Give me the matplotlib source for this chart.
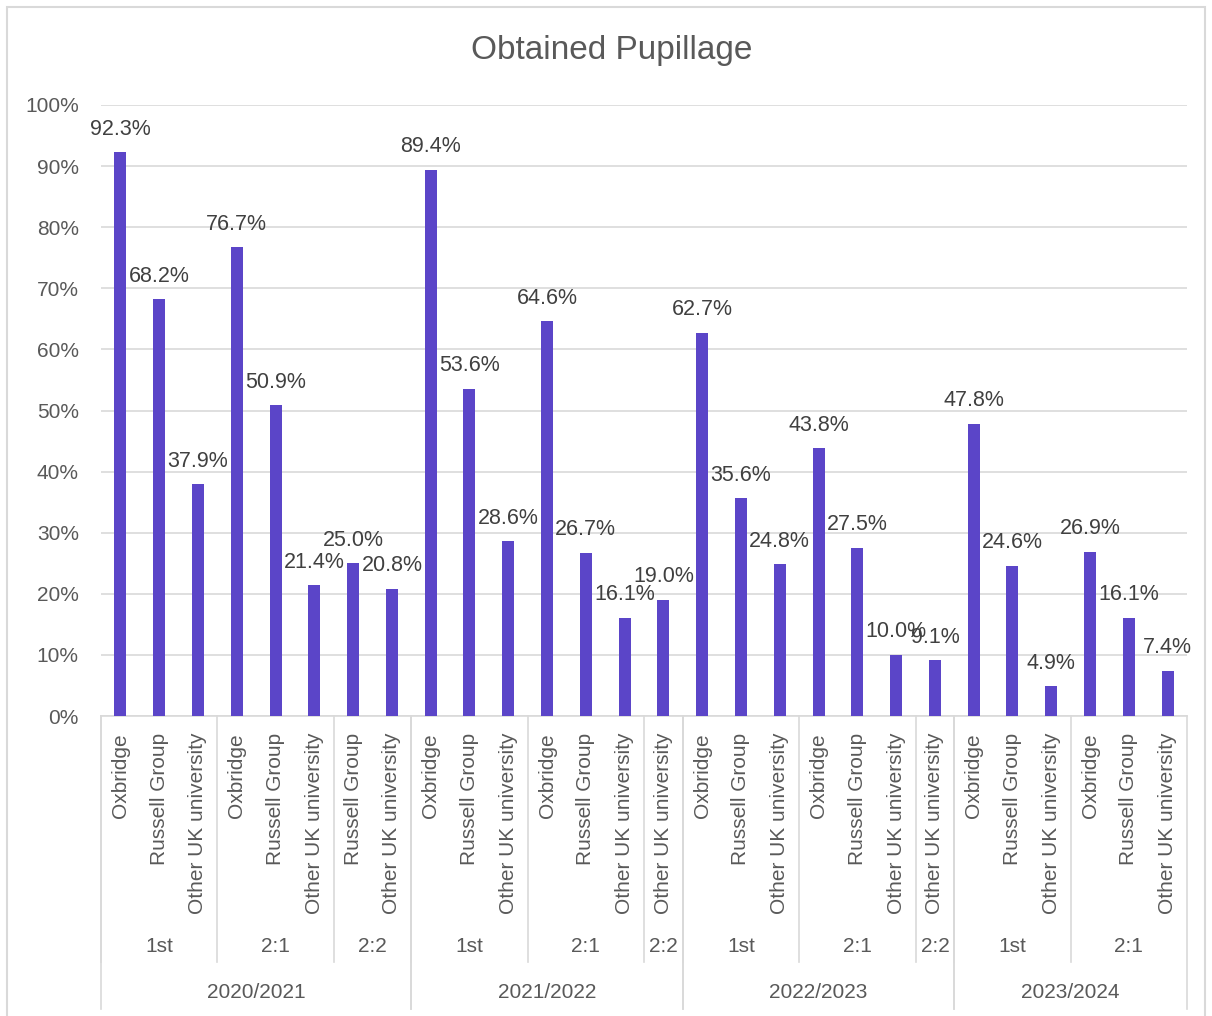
import matplotlib
matplotlib.use("Agg")
import matplotlib.pyplot as plt
from matplotlib.lines import Line2D
from matplotlib.patches import Rectangle

plt.rcParams['font.family'] = ['Liberation Sans', 'DejaVu Sans']

# data
years = ["2020/2021", "2021/2022", "2022/2023", "2023/2024"]
group_year = [0, 0, 0, 1, 1, 1, 2, 2, 2, 3, 3]
group_grade = ["1st", "2:1", "2:2", "1st", "2:1", "2:2", "1st", "2:1", "2:2", "1st", "2:1"]
group_unis = [
    ["Oxbridge", "Russell Group", "Other UK university"],
    ["Oxbridge", "Russell Group", "Other UK university"],
    ["Russell Group", "Other UK university"],
    ["Oxbridge", "Russell Group", "Other UK university"],
    ["Oxbridge", "Russell Group", "Other UK university"],
    ["Other UK university"],
    ["Oxbridge", "Russell Group", "Other UK university"],
    ["Oxbridge", "Russell Group", "Other UK university"],
    ["Other UK university"],
    ["Oxbridge", "Russell Group", "Other UK university"],
    ["Oxbridge", "Russell Group", "Other UK university"],
]
group_values = [
    [92.3, 68.2, 37.9],
    [76.7, 50.9, 21.4],
    [25.0, 20.8],
    [89.4, 53.6, 28.6],
    [64.6, 26.7, 16.1],
    [19.0],
    [62.7, 35.6, 24.8],
    [43.8, 27.5, 10.0],
    [9.1],
    [47.8, 24.6, 4.9],
    [26.9, 16.1, 7.4],
]

bar_color = "#5B45C8"
grid_color = "#D9D9D9"
text_color = "#595959"

W, H = 1212, 1016
fig = plt.figure(figsize=(W / 100, H / 100), dpi=100)
ax_left, ax_right, ax_top, ax_bot = 101, 1187, 105, 716
ax = fig.add_axes([ax_left / W, 1 - ax_bot / H, (ax_right - ax_left) / W, (ax_bot - ax_top) / H])
ax_h = ax_bot - ax_top

# flatten
labels, values = [], []
for unis, vals in zip(group_unis, group_values):
    labels += unis
    values += vals
xs = list(range(len(values)))

bars = ax.bar(xs, values, width=0.31, color=bar_color, zorder=3)
for x, v in zip(xs, values):
    ax.annotate(f"{v:.1f}%", (x, v), xytext=(0, 9), textcoords="offset points",
                ha="center", va="bottom", fontsize=15.5, color="#404040")

ax.set_xlim(-0.5, len(values) - 0.5)
ax.set_ylim(0, 100)
ax.set_yticks(range(0, 101, 10))
ax.set_yticklabels([f"{t}%" for t in range(0, 101, 10)])
ax.tick_params(axis="y", length=0, pad=16, labelsize=15, labelcolor=text_color)
ax.set_xticks([])
ax.grid(axis="y", color=grid_color, linewidth=1.2, zorder=0)
for s in ["top", "right", "left"]:
    ax.spines[s].set_visible(False)
ax.spines["bottom"].set_color(grid_color)
ax.spines["bottom"].set_linewidth(1.2)

tr = ax.get_xaxis_transform()
def fy(px):
    return -px / ax_h

# bottom level labels
for x, lab in zip(xs, labels):
    ax.text(x, fy(17), lab, rotation=90, ha="center", va="top", fontsize=15,
            color=text_color, transform=tr)

# grade groups and year groups
pos = 0
year_start = {}
year_end = {}
for g, (unis, grade) in enumerate(zip(group_unis, group_grade)):
    n = len(unis)
    start, end = pos - 0.5, pos + n - 0.5
    ax.text((start + end) / 2, fy(231), grade, ha="center", va="center", fontsize=15,
            color=text_color, transform=tr)
    ax.add_line(Line2D([start, start], [0, fy(246)], color=grid_color, lw=1.2,
                       transform=tr, clip_on=False))
    y = group_year[g]
    year_start.setdefault(y, start)
    year_end[y] = end
    pos += n

for y, name in enumerate(years):
    s, e = year_start[y], year_end[y]
    ax.text((s + e) / 2, fy(277), name, ha="center", va="center", fontsize=15,
            color=text_color, transform=tr)
    for xx in (s, e):
        ax.add_line(Line2D([xx, xx], [0, fy(293)], color=grid_color, lw=1.2,
                           transform=tr, clip_on=False))

fig.text(612 / W, 1 - 50 / H, "Obtained Pupillage", ha="center", va="center",
         fontsize=24, color=text_color)

fig.patches.append(Rectangle((7 / W, -0.01), (1205 - 7) / W, 1 - 7 / H + 0.01,
                             transform=fig.transFigure, fill=False,
                             edgecolor=grid_color, lw=1.5))

fig.savefig("out.png", dpi=100)
